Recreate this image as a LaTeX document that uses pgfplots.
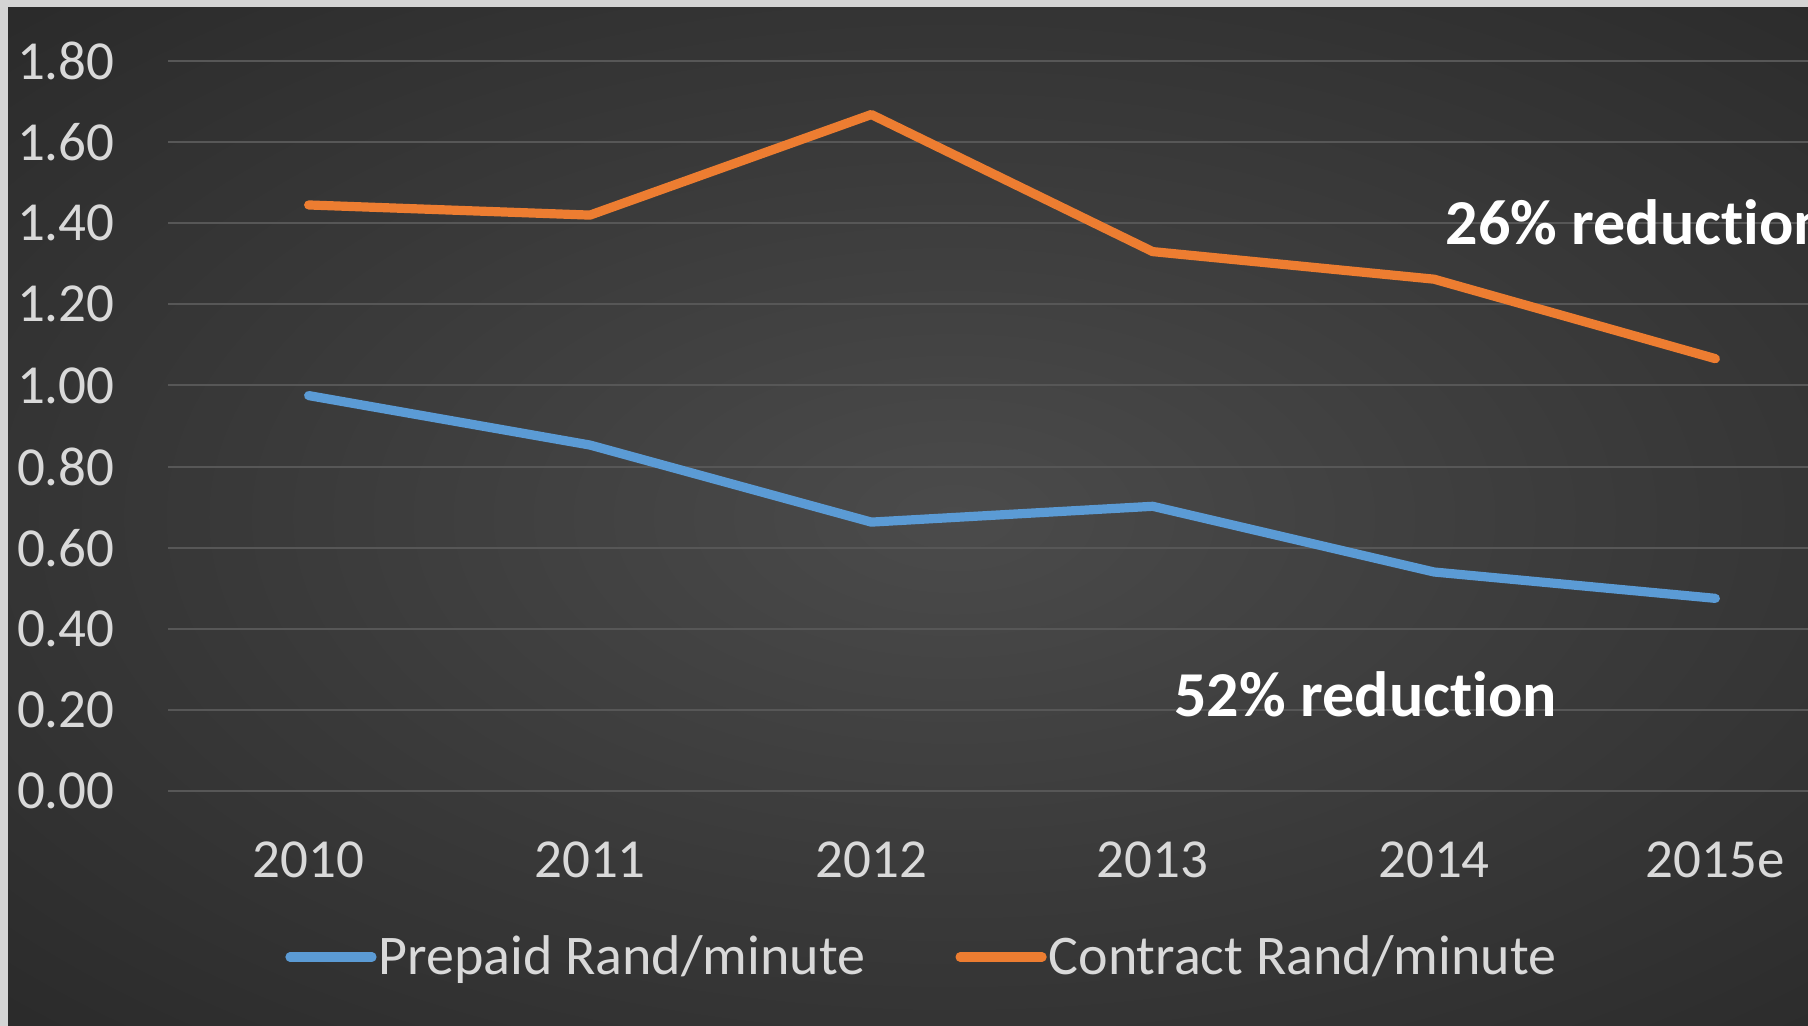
\documentclass[border=0pt]{standalone}
\usepackage{fontspec}
\setmainfont[RawFeature={-liga;-clig;-dlig;-calt}]{Carlito}
\usepackage{pgfplots}
\pgfplotsset{compat=1.18}
\definecolor{bgin}{HTML}{4B4B4B}
\definecolor{bgmid}{HTML}{3A3A3A}
\definecolor{bgout}{HTML}{2A2A2A}
\definecolor{framec}{HTML}{D4D4D4}
\definecolor{gridc}{HTML}{575757}
\definecolor{txt}{HTML}{D9D9D9}
\definecolor{prep}{HTML}{5B9BD5}
\definecolor{contr}{HTML}{ED7D31}
\pgfdeclareradialshading{bgshade}{\pgfpoint{0bp}{0bp}}{color(0bp)=(bgin); color(18bp)=(bgmid); color(36bp)=(bgout); color(50bp)=(bgout)}
\pgfplotstableread{
x y
0 0.975
1 0.853
2 0.663
3 0.702
4 0.540
5 0.475
}\prepaid
\pgfplotstableread{
x y
0 1.445
1 1.420
2 1.668
3 1.330
4 1.262
5 1.066
}\contract
\begin{document}
\begin{tikzpicture}
\useasboundingbox (0,0) rectangle (904pt,513pt);
\clip (0,0) rectangle (904pt,513pt);
\fill[framec] (0,0) rectangle (904pt,513pt);
\shade[shading=bgshade] (4pt,0) rectangle (950pt,509pt);
\begin{axis}[
  at={(84pt,117.5pt)}, anchor=south west,
  scale only axis, width=844pt, height=365pt,
  xmin=-0.5, xmax=5.5, ymin=0, ymax=1.8,
  axis line style={draw=none},
  tick style={draw=none},
  xtick={0,1,2,3,4,5},
  xticklabels={2010,2011,2012,2013,2014,2015e},
  ytick={0,0.2,0.4,0.6,0.8,1.0,1.2,1.4,1.6,1.8},
  yticklabels={0.00,0.20,0.40,0.60,0.80,1.00,1.20,1.40,1.60,1.80},
  ymajorgrids,
  major grid style={draw=gridc, line width=1pt},
  every tick label/.append style={inner sep=0pt, text=txt, font=\fontsize{27.5}{30}\selectfont},
  yticklabel style={anchor=east, xshift=-26.5pt},
  xticklabel style={anchor=north, yshift=-25pt},
  clip=false,
  legend columns=2,
  legend style={at={(0.0693,-0.2274)}, anchor=west, draw=none, fill=none,
    inner sep=0pt, text=txt, font=\fontsize{28}{32}\selectfont,
    nodes={inner sep=1pt},
    /tikz/every odd column/.append style={column sep=0pt},
    /tikz/every even column/.append style={column sep=44pt}},
  legend image code/.code={\draw[#1, line cap=round] (0pt,0pt) -- (41pt,0pt);},
]
\addplot[prep, line width=4.6pt, line join=round, line cap=round] table[x=x,y=y] {\prepaid};
\addlegendentry{Prepaid Rand/minute}
\addplot[contr, line width=4.6pt, line join=round, line cap=round] table[x=x,y=y] {\contract};
\addlegendentry{Contract Rand/minute}
\node[anchor=west, inner sep=0pt, text=white, font=\bfseries\fontsize{32}{36}\selectfont] at (axis cs:4.04,1.403) {26\% reduction};
\node[anchor=west, inner sep=0pt, text=white, font=\bfseries\fontsize{32}{36}\selectfont] at (axis cs:3.076,0.239) {52\% reduction};
\end{axis}
\end{tikzpicture}
\end{document}
